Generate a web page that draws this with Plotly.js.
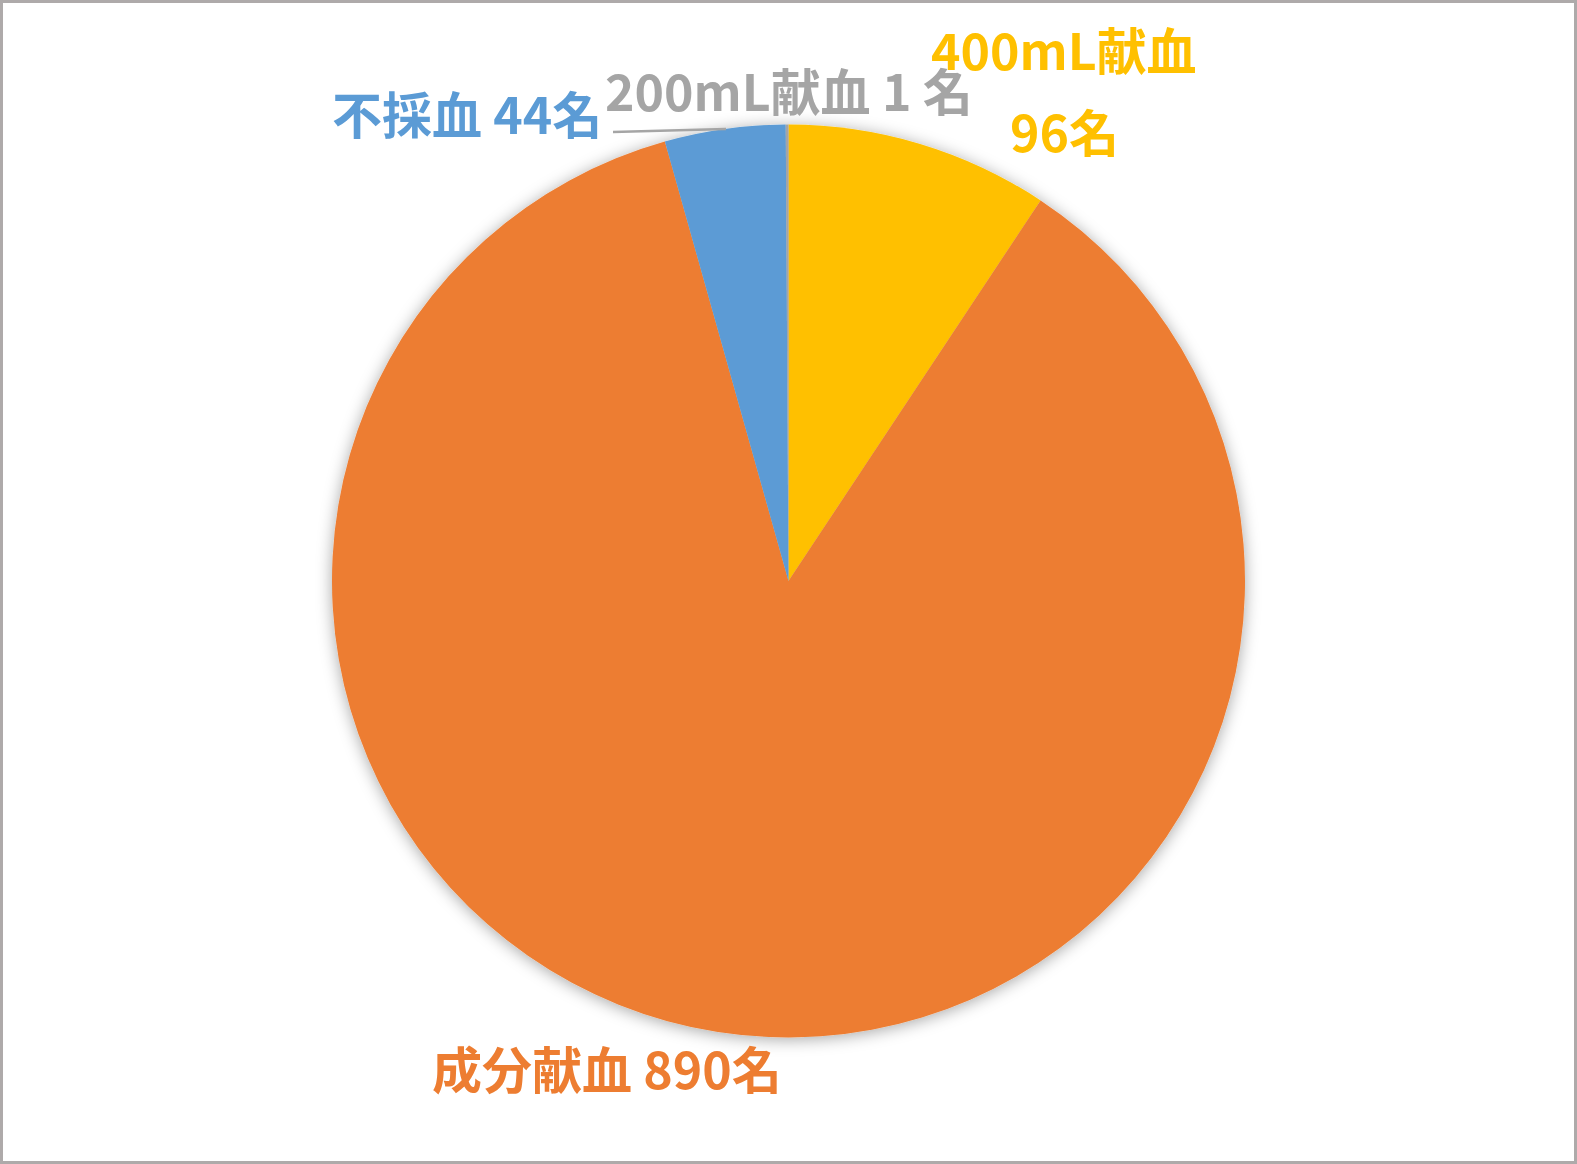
<!DOCTYPE html>
<html>
<head>
<meta charset="utf-8">
<script src="https://cdn.plot.ly/plotly-3.0.1.min.js"></script>
<style>
  html, body { margin: 0; padding: 0; background: #fff; }
  #frame {
    width: 1577px; height: 1164px; box-sizing: border-box;
    border: 3px solid #aeaaaa; background: #fff;
  }
  #plt { width: 1571px; height: 1158px; }
</style>
</head>
<body>
<div id="frame"><div id="plt"></div></div>
<script>
// slices, clockwise from 12 o'clock
var categories = ['400mL献血', '成分献血', '不採血', '200mL献血'];
var counts = [96, 890, 44, 1];
var colors = ['#FFC000', '#ED7D31', '#5B9BD5', '#A5A5A5'];

var W = 1571, H = 1158;
// page pixel -> paper coords (frame border is 3px)
function px(x){ return (x - 3) / W; }
function py(y){ return 1 - (y - 3) / H; }

function label(i, text, x, y){
    return {
        xref: 'paper', yref: 'paper',
        x: px(x), y: py(y),
        xanchor: 'center', yanchor: 'middle',
        showarrow: false,
        text: text,
        font: {family: '"Noto Sans CJK JP", sans-serif', size: 50, color: colors[i], weight: 'bold'}
    };
}

function plot(){
    let gd = document.getElementById('plt');

    let d = [{
        type: 'pie',
        labels: categories,
        values: counts,
        sort: false,
        direction: 'clockwise',
        rotation: 0,
        textinfo: 'none',
        hoverinfo: 'label+value',
        marker: {colors: colors, line: {width: 0}},
        domain: {x: [px(332), px(1245)], y: [py(1038), py(124)]}
    }];

    let ann = [
        label(0, categories[0], 1064, 48),
        label(0, counts[0] + '名', 1064, 130),
        label(3, categories[3] + ' ' + counts[3] + ' 名', 789, 89),
        label(2, categories[2] + ' ' + counts[2] + '名', 467, 112),
        label(1, categories[1] + ' ' + counts[1] + '名', 607, 1067)
    ];

    let l = {
        width: W, height: H,
        margin: {l: 0, r: 0, t: 0, b: 0},
        showlegend: false,
        paper_bgcolor: '#fff',
        annotations: ann,
        shapes: [{
            type: 'line', xref: 'paper', yref: 'paper',
            x0: px(613), y0: py(132), x1: px(726), y1: py(129),
            line: {color: '#A5A5A5', width: 2.5}
        }]
    };
    let c = {displayModeBar: false, staticPlot: true};

    Plotly.newPlot(gd, d, l, c).then(addShadow);
}

// soft glow under the pie, like the office chart style
function addShadow(gd){
    let svg = gd.querySelector('.main-svg');
    let defs = svg.querySelector('defs');
    let ns = 'http://www.w3.org/2000/svg';
    let f = document.createElementNS(ns, 'filter');
    f.setAttribute('id', 'pieShadow');
    f.setAttribute('x', '-10%'); f.setAttribute('y', '-10%');
    f.setAttribute('width', '120%'); f.setAttribute('height', '120%');
    let s = document.createElementNS(ns, 'feDropShadow');
    s.setAttribute('dx', '0'); s.setAttribute('dy', '2');
    s.setAttribute('stdDeviation', '8');
    s.setAttribute('flood-color', '#000');
    s.setAttribute('flood-opacity', '0.35');
    f.appendChild(s);
    defs.appendChild(f);
    let pl = svg.querySelector('.pielayer');
    if (pl) pl.setAttribute('filter', 'url(#pieShadow)');
}

plot();
</script>
</body>
</html>
